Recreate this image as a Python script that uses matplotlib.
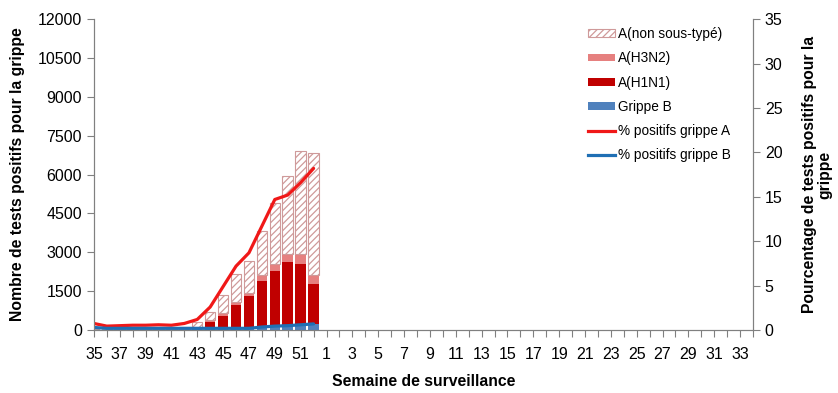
import numpy as np
import matplotlib
matplotlib.use('Agg')
import matplotlib.pyplot as plt
from matplotlib.patches import Patch
from matplotlib.lines import Line2D

plt.rcParams['font.family'] = ['Liberation Sans', 'DejaVu Sans']
plt.rcParams['hatch.color'] = '#cf9a9a'
plt.rcParams['hatch.linewidth'] = 0.9

# semaines de surveillance 35..52 puis 1..34
weeks = list(range(35, 53)) + list(range(1, 35))

# données disponibles (semaines 35 à 52)
grippe_b = [40, 30, 30, 30, 30, 30, 30, 30, 40, 40, 40, 50, 60, 100, 140, 160, 190, 230]
h1n1 = [10, 10, 10, 10, 10, 10, 10, 10, 70, 280, 513, 915, 1265, 1804, 2150, 2464, 2370, 1558]
h3n2 = [10, 10, 10, 10, 10, 10, 10, 10, 20, 60, 91, 128, 116, 206, 245, 296, 360, 322]
non_sous_type = [60, 40, 50, 50, 60, 60, 60, 80, 170, 303, 695, 1055, 1222, 1710, 2353, 3023, 3975, 4708]
pct_a = [0.75, 0.45, 0.5, 0.55, 0.55, 0.6, 0.55, 0.75, 1.2, 2.6, 4.9, 7.2, 8.7, 11.7, 14.7, 15.2, 16.6, 18.2]
pct_b = [0.3, 0.2, 0.2, 0.2, 0.2, 0.2, 0.2, 0.2, 0.2, 0.2, 0.2, 0.2, 0.2, 0.35, 0.45, 0.5, 0.6, 0.7]

n = len(grippe_b)
x = np.arange(n)
grey = '#808080'

fig = plt.figure(figsize=(8.38, 3.93), dpi=100)
ax = fig.add_axes([0.112, 0.160, 0.7866, 0.7914])
ax2 = ax.twinx()

w = 0.81
b = np.array(grippe_b)
hn = np.array(h1n1)
h3 = np.array(h3n2)
ns = np.array(non_sous_type)
ax.bar(x, b, w, color='#4f81bd', linewidth=0)
ax.bar(x, hn, w, bottom=b, color='#c00000', linewidth=0)
ax.bar(x, h3, w, bottom=b + hn, color='#e6807f', linewidth=0)
ax.bar(x, ns, w, bottom=b + hn + h3, color='white', edgecolor='#cf9a9a',
       hatch='/////', linewidth=0.8)

ax2.plot(x, pct_a, color='#f01818', lw=2.3, solid_capstyle='round')
ax2.plot(x, pct_b, color='#1f6fb4', lw=2.3, solid_capstyle='round')

ax.set_xlim(0, len(weeks) - 1)
ax.set_ylim(0, 12000)
ax.set_yticks(np.arange(0, 12001, 1500))
ax2.set_ylim(0, 35)
ax2.set_yticks(np.arange(0, 36, 5))

ax.set_xticks(np.arange(0, len(weeks)))
ax.set_xticklabels([str(wk) if i % 2 == 0 else '' for i, wk in enumerate(weeks)])
ax.tick_params(axis='x', length=5, color=grey, labelsize=11.5, pad=7)
ax.tick_params(axis='y', length=5, color=grey, labelsize=11.5)
ax2.tick_params(axis='y', length=5, color=grey, labelsize=11.5)

for a in (ax, ax2):
    a.spines['top'].set_visible(False)
    for s in ('left', 'right', 'bottom'):
        a.spines[s].set_color(grey)

ax.set_xlabel('Semaine de surveillance', fontsize=11.3, fontweight='bold', labelpad=9)
ax.set_ylabel('Nombre de tests positifs pour la grippe', fontsize=11.3, fontweight='bold', labelpad=9)
ax2.set_ylabel('Pourcentage de tests positifs pour la\ngrippe', fontsize=11.3,
               fontweight='bold', labelpad=14, linespacing=1.0)

handles = [
    Patch(facecolor='white', edgecolor='#cf9a9a', hatch='/////', linewidth=0.8),
    Patch(facecolor='#e6807f'),
    Patch(facecolor='#c00000'),
    Patch(facecolor='#4f81bd'),
    Line2D([], [], color='#f01818', lw=2.3),
    Line2D([], [], color='#1f6fb4', lw=2.3),
]
labels = ['A(non sous-typé)', 'A(H3N2)', 'A(H1N1)', 'Grippe B',
          '% positifs grippe A', '% positifs grippe B']
ax2.legend(handles, labels, loc='upper left', bbox_to_anchor=(0.687, 0.962),
           bbox_transform=fig.transFigure, frameon=False, fontsize=9.8,
           handlelength=2.0, handleheight=0.5, handletextpad=0.2, labelspacing=0.75)

fig.savefig('out.png', dpi=100)
